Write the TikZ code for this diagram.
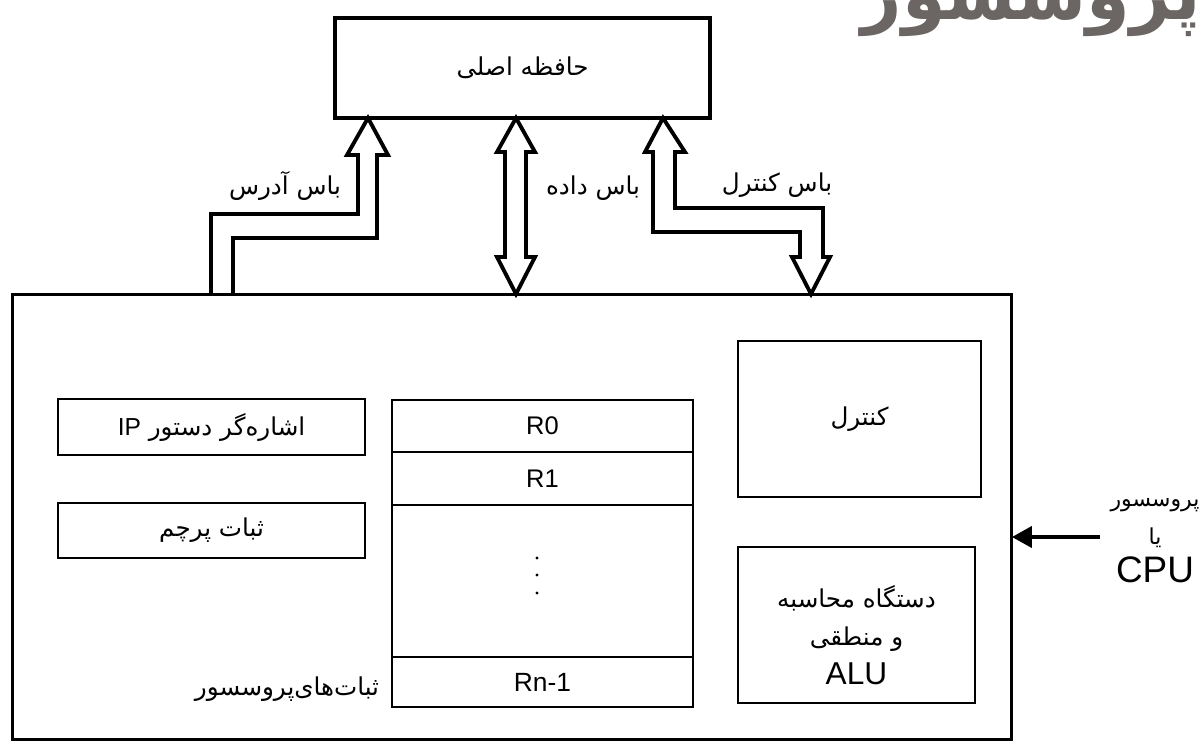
\documentclass[tikz,border=0pt]{standalone}
\usepackage{fontspec}
\setmainfont{Liberation Sans}
\newfontfamily\arabicfont[Script=Arabic]{DejaVu Sans}
\TeXXeTstate=1
\usetikzlibrary{arrows.meta, positioning}
\definecolor{titlegray}{HTML}{6B6664}

\begin{document}
\begin{tikzpicture}[x=0.02cm, y=-0.02cm,
    box/.style={draw, line width=1.4pt, inner sep=0pt, outer sep=0pt, align=center},
    reg/.style={draw, line width=1.1pt, minimum width=6.02cm, inner sep=0pt, outer sep=0pt, font=\fontsize{14.5}{17}\selectfont},
    fa/.style={font=\arabicfont\fontsize{14}{17}\selectfont},
    bus/.style={draw, line width=2.2pt, line join=miter},
    inarrow/.style={-{Triangle[length=0.4cm, width=0.42cm]}, line width=2.2pt}
]
\useasboundingbox (0,0) rectangle (1201,741);

% Title, cut off at the top
\node[font=\arabicfont\bfseries\fontsize{40}{40}\selectfont, text=titlegray, anchor=base east, inner sep=0pt] (title) at (1201,19) {\beginR پروسسور\endR};

% Main memory
\node[box, line width=1.8pt, minimum width=7.5cm, minimum height=2cm, fa] (mem) at (522.5,68) {\beginR حافظه اصلی\endR};

% Processor
\node[box, line width=1.7pt, minimum width=20cm, minimum height=8.92cm] (cpu) at (512,517) {};

% Left registers
\node[box, line width=1.3pt, minimum width=6.14cm, minimum height=1.12cm, fa] (ip) at (211.5,427) {\beginR اشاره‌گر دستور {\normalfont IP}\endR};
\node[box, line width=1.3pt, minimum width=6.14cm, minimum height=1.1cm, fa] (flag) at (211.5,530.5) {\beginR ثبات پرچم\endR};

% Register file
\node[reg, minimum height=1.04cm] (r0) at (542.5,426) {R0};
\node[reg, minimum height=1.06cm, below=0pt of r0] (r1) {R1};
\node[reg, minimum height=3.04cm, below=0pt of r1] (rmid) {};
\node[reg, minimum height=1cm, below=0pt of rmid, font=\fontsize{15}{17}\selectfont] (rn) {Rn-1};
\foreach \y in {558,575,593} {
    \fill (537,\y) circle (0.9pt);
}
\node[fa] (reglbl) at (287,689) {\beginR ثبات‌های‌پروسسور\endR};

% Control and ALU
\node[box, minimum width=4.86cm, minimum height=3.12cm, fa] (ctrl) at (859.5,419) {\beginR کنترل\endR};
\node[box, minimum width=4.74cm, minimum height=3.12cm] (alu) at (856.5,625) {};
\node[align=center, font=\arabicfont\fontsize{14}{22}\selectfont] (alutxt) at ([yshift=-0.2cm]alu.center) {\beginR دستگاه محاسبه\endR\\\beginR و منطقی\endR\\{\normalfont\fontsize{18}{22}\selectfont ALU}};

% Buses
\draw[bus] (211,294) -- (211,214) -- (358,214) -- (358,155) -- (347,155) -- (368,118) -- (388,155) -- (377,155) -- (377,238) -- (233,238) -- (233,294);
\draw[bus] (505,152) -- (497,152) -- (516,118) -- (535,152) -- (526,152) -- (526,257) -- (535,257) -- (516,294) -- (497,257) -- (505,257) -- cycle;
\draw[bus] (653,152) -- (645,152) -- (663,118) -- (685,152) -- (675,152) -- (675,208) -- (823,208) -- (823,257) -- (830,257) -- (811,294) -- (792,257) -- (800,257) -- (800,232) -- (653,232) -- cycle;

\node[fa] (addrlbl) at (285,186) {\beginR باس آدرس\endR};
\node[fa] (datalbl) at (593,188) {\beginR باس داده\endR};
\node[fa] (ctrllbl) at (777,185) {\beginR باس کنترل\endR};

% Input to the processor
\node[align=center, font=\arabicfont\fontsize{12.5}{21.6}\selectfont] (cpulbl) at (1155,541) {\beginR پروسسور\endR\\\beginR یا\endR\\{\normalfont\fontsize{21}{21.6}\selectfont CPU}};
\coordinate (cpuin) at (1100,537);
\draw[inarrow] (cpuin) -- (cpuin -| cpu.east);

\end{tikzpicture}
\end{document}
